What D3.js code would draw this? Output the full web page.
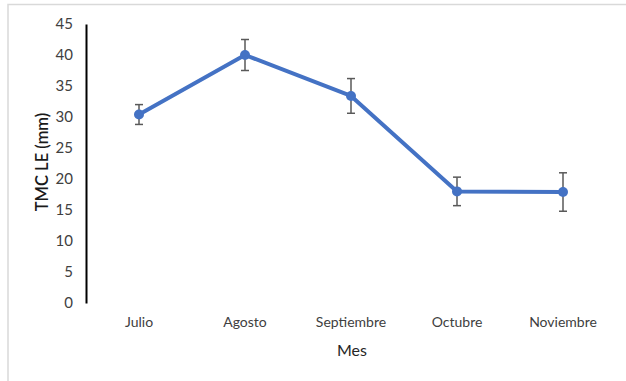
<!DOCTYPE html>
<html><head><meta charset="utf-8">
<script src="https://cdn.jsdelivr.net/npm/d3@7"></script>
<style>body{margin:0;background:#fff;}svg{display:block;font-family:Lato,"Open Sans",sans-serif;}</style>
</head><body><svg id="c" width="626" height="381"></svg>
<script>
const months = ["Julio","Agosto","Septiembre","Octubre","Noviembre"];
const means = [30.4, 40.0, 33.4, 18.0, 17.9];
const errors = [1.6, 2.5, 2.8, 2.3, 3.1];
const yTicks = [0,5,10,15,20,25,30,35,40,45];
const yTitle = "TMC LE (mm)";
const xTitle = "Mes";

const svg = d3.select("#c");
svg.append("rect").attr("x",8).attr("y",4.5).attr("width",640).attr("height",400)
  .attr("fill","none").attr("stroke","#d9d9d9").attr("stroke-width",1.5);

const x = d3.scaleBand().domain(months).range([86,616]);
const y = d3.scaleLinear().domain([0,45]).range([303,24]);

const yAxis = d3.axisLeft(y).tickValues(yTicks).tickSize(0).tickPadding(13);
const gy = svg.append("g").attr("transform","translate(86,0)").call(yAxis);
gy.select(".domain").attr("stroke","#000").attr("stroke-width",2);
gy.selectAll("text").attr("font-size",15).attr("fill","#404040").attr("font-family","Lato,sans-serif");

const xAxis = d3.axisBottom(x).tickSize(0).tickPadding(0);
const gx = svg.append("g").attr("transform","translate(0,317)").call(xAxis);
gx.select(".domain").remove();
gx.selectAll("text").attr("font-size",14).attr("fill","#404040").attr("dy","0.71em").attr("font-family","Lato,sans-serif");

svg.append("text").attr("transform","translate(48,162) rotate(-90)").attr("text-anchor","middle")
  .attr("font-size",16.5).attr("font-weight",600).attr("fill","#1a1a1a").text(yTitle);
svg.append("text").attr("x",352).attr("y",356).attr("text-anchor","middle")
  .attr("font-size",16).attr("fill","#262626").text(xTitle);

const cx = d => x(d) + x.bandwidth()/2;
const data = months.map((m,i)=>({m, v:means[i], e:errors[i]}));

const line = d3.line().x(d=>cx(d.m)).y(d=>y(d.v));
svg.append("path").datum(data).attr("d",line).attr("fill","none")
  .attr("stroke","#4472C4").attr("stroke-width",4).attr("stroke-linejoin","round");

const eb = svg.append("g").attr("stroke","#595959").attr("stroke-width",1.5);
eb.selectAll(".v").data(data).join("line")
  .attr("x1",d=>cx(d.m)).attr("x2",d=>cx(d.m)).attr("y1",d=>y(d.v+d.e)).attr("y2",d=>y(d.v-d.e));
eb.selectAll(".t").data(data).join("line")
  .attr("x1",d=>cx(d.m)-4).attr("x2",d=>cx(d.m)+4).attr("y1",d=>y(d.v+d.e)).attr("y2",d=>y(d.v+d.e));
eb.selectAll(".b").data(data).join("line")
  .attr("x1",d=>cx(d.m)-4).attr("x2",d=>cx(d.m)+4).attr("y1",d=>y(d.v-d.e)).attr("y2",d=>y(d.v-d.e));

svg.append("g").selectAll("circle").data(data).join("circle")
  .attr("cx",d=>cx(d.m)).attr("cy",d=>y(d.v)).attr("r",5).attr("fill","#4472C4");
</script></body></html>
